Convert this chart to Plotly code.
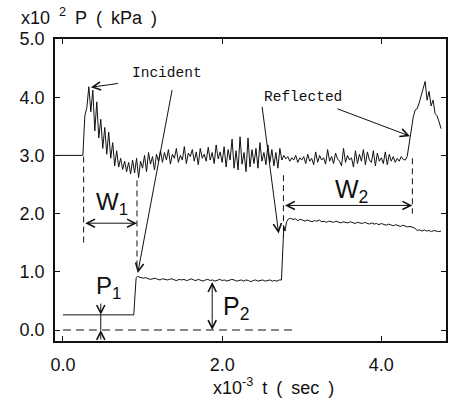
import plotly.graph_objects as go

# ---------------- data ----------------
# Upper gauge: incident + reflected pressure wave (x10^2 kPa)
UP_PRE_T = [-0.075]
UP_PRE_P = [3.00]
UP_REC_START = 0.25      # x10^-3 s, first sample of the digitised record
UP_REC_DT = 0.025        # sample interval
up_record = [
    # 0.250 - 0.975 : shock arrival and decay
    3.00, 3.68, 3.82, 4.18, 3.75, 4.12, 3.42, 3.92, 3.30, 3.62,
    3.12, 3.48, 3.02, 3.40, 2.95, 3.22, 2.82, 3.08, 2.80, 2.95,
    2.76, 2.90, 2.72, 2.88, 2.68, 2.92, 2.70, 2.95, 2.62, 2.90,
    # 1.000 - 4.275 : plateau
    2.78, 3.00, 2.72, 3.05, 2.85, 2.98, 2.75, 3.02,
    2.90, 3.08, 2.88, 3.05, 2.92, 3.10, 2.85, 3.02,
    2.95, 3.12, 2.88, 3.00, 2.92, 3.15, 2.86, 3.04,
    2.98, 3.10, 2.90, 3.06, 2.84, 3.12, 2.95, 3.02,
    2.90, 3.14, 2.92, 3.05, 2.86, 3.18, 2.94, 3.06,
    2.88, 3.15, 2.80, 3.10, 2.92, 3.28, 2.78, 3.08,
    2.75, 3.32, 2.85, 3.05, 2.72, 3.30, 2.80, 3.10,
    2.86, 3.12, 2.78, 3.22, 2.90, 3.05, 2.84, 3.18,
    2.88, 3.10, 2.82, 3.05, 2.78, 3.12, 2.92, 3.00,
    2.94, 2.98, 2.90, 2.96, 2.92, 3.00, 2.88, 2.96,
    2.92, 2.98, 2.86, 3.02, 2.90, 2.95, 2.84, 3.06,
    2.88, 3.00, 2.92, 2.96, 2.85, 3.10, 2.90, 2.98,
    2.86, 3.04, 2.94, 2.90, 2.82, 3.12, 2.88, 3.00,
    2.92, 2.96, 2.80, 3.08, 2.86, 3.02, 2.90, 3.10,
    2.84, 3.06, 2.92, 2.88, 3.08, 2.82, 3.04, 2.90,
    2.96, 2.86, 3.06, 2.84, 3.02, 2.90, 2.98, 2.88,
    2.95, 2.90, 2.98, 2.93,
    # 4.300 - 4.750 : reflected wave arrival
    2.92, 2.98, 3.20, 3.45, 3.65, 3.78, 3.80, 3.90, 4.02, 4.12,
    4.27, 3.95, 4.10, 3.85, 3.95, 3.72, 3.68, 3.58, 3.46,
]

# Lower gauge: transmitted pressure (x10^2 kPa)
LOW_STEP1_T = [0.00, 0.89, 0.905, 0.92, 0.935]
LOW_STEP1_P = [0.26, 0.26, 0.60, 0.90, 0.92]
LOW_REC1_START = 0.95
LOW_REC1_DT = 0.03
low_record1 = [
    0.91, 0.90, 0.89, 0.90, 0.88, 0.87, 0.88, 0.89, 0.87, 0.86,
    0.88, 0.87, 0.86, 0.87, 0.88, 0.86, 0.85, 0.87, 0.86, 0.87,
    0.85, 0.86, 0.88, 0.86, 0.85, 0.87, 0.86, 0.84, 0.86, 0.87,
    0.85, 0.86, 0.84, 0.86, 0.87, 0.85, 0.86, 0.84, 0.85, 0.87,
    0.86, 0.84, 0.85, 0.86, 0.84, 0.86, 0.85, 0.83, 0.85, 0.86,
    0.84, 0.85, 0.86, 0.84, 0.85, 0.86, 0.84, 0.85, 0.84, 0.86,
]
LOW_STEP2_T = [2.745, 2.76, 2.775, 2.79, 2.81, 2.835]
LOW_STEP2_P = [0.86, 1.30, 1.78, 1.70, 1.86, 1.91]
LOW_REC2_START = 2.86
LOW_REC2_DT = 0.03
low_record2 = [
    1.92, 1.90, 1.91, 1.88, 1.90, 1.89, 1.87, 1.89, 1.88, 1.86,
    1.88, 1.87, 1.89, 1.86, 1.87, 1.85, 1.87, 1.86, 1.85, 1.87,
    1.85, 1.84, 1.86, 1.85, 1.84, 1.86, 1.84, 1.83, 1.85, 1.84,
    1.83, 1.85, 1.83, 1.82, 1.84, 1.82, 1.83, 1.81, 1.83, 1.82,
    1.80, 1.82, 1.81, 1.79, 1.81, 1.80, 1.78, 1.80, 1.78, 1.77,
    1.78, 1.76, 1.75, 1.71, 1.72, 1.70, 1.72, 1.70, 1.71, 1.69,
    1.71, 1.70, 1.69, 1.70,
]

# Reference (zero) level of the lower gauge
ZERO_T = [0.0, 2.92]
ZERO_P = [0.0, 0.0]

X_TICKS = [0, 2, 4]
X_TICK_TEXT = ["0.0", "2.0", "4.0"]
Y_TICKS = [0, 1, 2, 3, 4, 5]
Y_TICK_TEXT = ["0.0", "1.0", "2.0", "3.0", "4.0", "5.0"]

# ---------------- build series ----------------
t_up = UP_PRE_T + [UP_REC_START + UP_REC_DT * i for i in range(len(up_record))]
p_up = UP_PRE_P + up_record

t_low = (LOW_STEP1_T
         + [LOW_REC1_START + LOW_REC1_DT * i for i in range(len(low_record1))]
         + LOW_STEP2_T
         + [LOW_REC2_START + LOW_REC2_DT * i for i in range(len(low_record2))])
p_low = LOW_STEP1_P + low_record1 + LOW_STEP2_P + low_record2

INK = "#111111"
SANS = "Liberation Sans"
MONO = "Liberation Mono"
SP = "\u2002"   # en space for the wide-set axis captions

fig = go.Figure()
fig.add_trace(go.Scatter(x=t_up, y=p_up, mode="lines",
                         line=dict(color=INK, width=1), hoverinfo="skip"))
fig.add_trace(go.Scatter(x=t_low, y=p_low, mode="lines",
                         line=dict(color=INK, width=1), hoverinfo="skip"))
fig.add_trace(go.Scatter(x=ZERO_T, y=ZERO_P, mode="lines",
                         line=dict(color=INK, width=1.2, dash="8px,5px"),
                         hoverinfo="skip"))

# dashed markers bounding the pulse widths
dash_lines = [
    (0.26, 2.98, 1.49),
    (0.93, 2.57, 1.03),
    (2.77, 2.66, 1.60),
    (4.39, 2.95, 2.00),
]
for xv, y0, y1 in dash_lines:
    fig.add_shape(type="line", x0=xv, x1=xv, y0=y0, y1=y1, xref="x", yref="y",
                  line=dict(color=INK, width=1, dash="6px,4px"))

# P1 dimension line (continuous through both levels)
fig.add_shape(type="line", x0=0.475, x1=0.475, y0=0.26, y1=0.0, xref="x", yref="y",
              line=dict(color=INK, width=1))


def arrow(x, y, ax, ay, both=False):
    fig.add_annotation(x=x, y=y, ax=ax, ay=ay, xref="x", yref="y",
                       axref="x", ayref="y", text="", showarrow=True,
                       arrowhead=5, arrowsize=1.6, arrowwidth=1,
                       arrowcolor=INK,
                       arrowside="end+start" if both else "end",
                       startarrowhead=5, startarrowsize=1.6)


# widths W1, W2 and pressure jump P2
arrow(0.93, 1.835, 0.26, 1.835, both=True)
arrow(4.39, 2.14, 2.77, 2.14, both=True)
arrow(1.875, 0.0, 1.875, 0.85, both=True)
# P1 arrows pointing inward from outside
arrow(0.475, 0.26, 0.475, 0.48)
arrow(0.475, 0.0, 0.475, -0.19)

# Incident / Reflected pointers
arrow(0.35, 4.17, 0.71, 4.24)
arrow(0.94, 0.98, 1.375, 4.15)
arrow(2.71, 1.66, 2.50, 3.86)
arrow(4.36, 3.33, 3.43, 3.81)


def label(x, y, text, size, family=SANS):
    fig.add_annotation(x=x, y=y, xref="x", yref="y", text=text, showarrow=False,
                       font=dict(family=family, size=size, color=INK))


label(1.31, 4.41, "Incident", 14.5, MONO)
label(3.01, 4.01, "Reflected", 14.5, MONO)
label(0.62, 2.17, "W<sub>1</sub>", 24)
label(3.62, 2.38, "W<sub>2</sub>", 25)
label(0.57, 0.73, "P<sub>1</sub>", 24)
label(2.18, 0.37, "P<sub>2</sub>", 25)

# axis captions
fig.add_annotation(x=0.086, y=1.073, xref="paper", yref="paper",
                   xanchor="center", yanchor="middle",
                   text="x10" + SP + "<sup>2</sup>" + SP + "P" + SP + "(" + SP + "kPa" + SP + ")",
                   showarrow=False, font=dict(family=SANS, size=18, color=INK))
fig.add_annotation(x=0.56, y=-0.152, xref="paper", yref="paper",
                   xanchor="center", yanchor="middle",
                   text="x10<sup>-3</sup>" + SP + "t" + SP + "(" + SP + "sec" + SP + ")",
                   showarrow=False, font=dict(family=SANS, size=18, color=INK))

axis_common = dict(showline=True, linecolor=INK, linewidth=1.5, mirror="ticks",
                   ticks="inside", ticklen=5, tickcolor=INK, tickwidth=1,
                   showgrid=False, zeroline=False,
                   tickfont=dict(family=SANS, size=18, color=INK))

fig.update_layout(
    width=450, height=405,
    margin=dict(l=55, r=2, t=39, b=64),
    paper_bgcolor="white", plot_bgcolor="white",
    showlegend=False,
    xaxis=dict(range=[-0.1, 4.8125], tickvals=X_TICKS, ticktext=X_TICK_TEXT,
               ticklabelstandoff=7, **axis_common),
    yaxis=dict(range=[-0.189, 5.0], tickvals=Y_TICKS, ticktext=Y_TICK_TEXT,
               ticklabelstandoff=5, **axis_common),
)

fig.write_html("out.html")
